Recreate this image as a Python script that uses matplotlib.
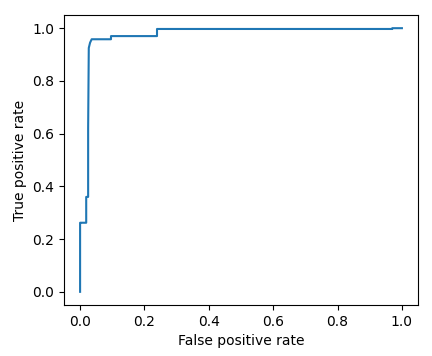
import matplotlib
matplotlib.use("Agg")
import matplotlib.pyplot as plt

fpr = [0.0, 0.0, 0.0, 0.019, 0.019, 0.025, 0.025, 0.027, 0.031, 0.036, 0.096, 0.096, 0.239, 0.239, 0.97, 0.97, 1.0]
tpr = [0.0, 0.26, 0.262, 0.262, 0.36, 0.36, 0.62, 0.925, 0.945, 0.958, 0.958, 0.970, 0.970, 0.997, 0.997, 1.0, 1.0]

fig = plt.figure(figsize=(4.32, 3.56), dpi=100)
ax = fig.add_axes([64/432, 51/356, 354/432, 290/356])
ax.plot(fpr, tpr)
ax.set_xlabel("False positive rate")
ax.set_ylabel("True positive rate")
fig.savefig("out.png", dpi=100)
